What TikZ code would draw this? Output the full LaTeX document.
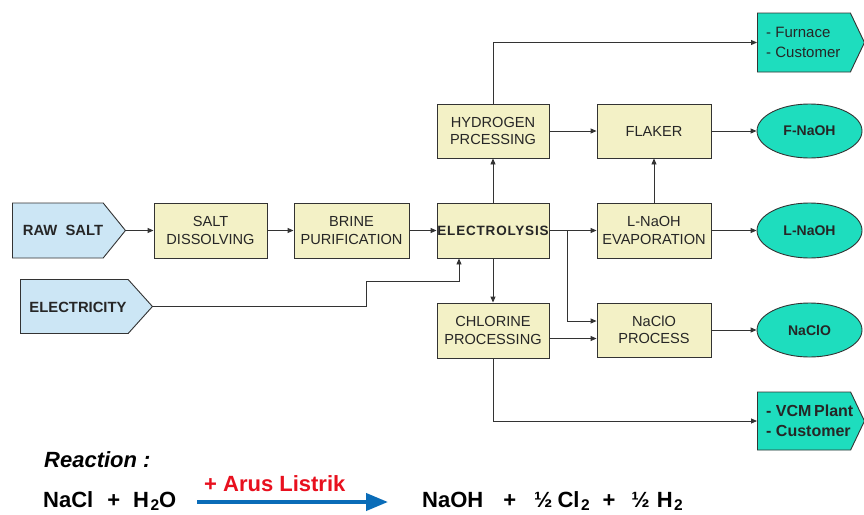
\documentclass[tikz,border=0pt]{standalone}
\usepackage{fontspec}
\setmainfont{Liberation Sans}
\usetikzlibrary{arrows.meta,shapes.symbols,shapes.geometric}
\definecolor{boxfill}{HTML}{F3F1C6}
\definecolor{infill}{HTML}{CCE6F5}
\definecolor{outfill}{HTML}{1EDDBE}
\definecolor{linegray}{HTML}{333333}
\definecolor{reactblue}{HTML}{0A6CB8}
\definecolor{reactred}{HTML}{E8101E}
\newcommand{\subtwo}{\hspace{1.5pt}\raisebox{-3.5pt}{\fontsize{15.5}{14}\selectfont 2}}
\begin{document}
\begin{tikzpicture}[x=1pt,y=-1pt,
  proc/.style={draw=linegray, line width=0.9pt, fill=boxfill, minimum width=113pt, minimum height=55pt,
    inner sep=0pt, align=center, text=black!85, font=\fontsize{14.6}{17.3}\selectfont},
  insig/.style={shape=signal, signal to=east, draw=linegray, line width=0.9pt, fill=infill,
    minimum height=55pt, inner sep=0pt, anchor=west},
  intext/.style={inner sep=0pt, text=black!85, font=\bfseries\fontsize{14.8}{17}\selectfont},
  outsig/.style={shape=signal, signal to=east, draw=linegray, line width=0.9pt, fill=outfill,
    minimum height=59pt, minimum width=107pt, inner sep=0pt, anchor=west, signal pointer angle=129},
  outtext/.style={inner sep=0pt, anchor=west, align=left, text=black!85},
  outell/.style={ellipse, draw=linegray, line width=0.9pt, fill=outfill, minimum width=105pt, minimum height=54pt,
    inner sep=0pt, text=black!85, font=\bfseries\fontsize{14}{17}\selectfont},
  conn/.style={draw=linegray, line width=0.9pt, -{Triangle[length=6pt,width=5pt]}},
  rtext/.style={anchor=base west, inner sep=0pt, font=\bfseries\fontsize{22}{24}\selectfont}
]
\useasboundingbox (0,0) rectangle (864,514);
\fill[white] (0,0) rectangle (864,514);

% inputs
\node[insig, minimum width=113pt, signal pointer angle=102] (raw) at (12,230.5) {};
\node[intext] (rawtxt) at (63,230.5) {RAW\ \ SALT};
\node[insig, minimum width=132pt, signal pointer angle=96, minimum height=54pt] (elec) at (20,306.5) {};
\node[intext] (electxt) at (78,307) {ELECTRICITY};

% process boxes
\node[proc] (saltdis) at (210.5,230.5) {SALT\\DISSOLVING};
\node[proc, minimum width=115pt] (brine) at (351.5,230.5) {BRINE\\PURIFICATION};
\node[proc, minimum width=112pt, font=\bfseries\fontsize{13.5}{17}\selectfont\addfontfeature{LetterSpace=6}] (electro) at (493,230.5) {ELECTROLYSIS};
\node[proc, minimum width=112pt, minimum height=54pt] (hydro) at (493,131) {HYDROGEN\\PRCESSING};
\node[proc, minimum width=112pt] (chlor) at (493,330.5) {CHLORINE\\PROCESSING};
\node[proc, minimum width=114pt, minimum height=54pt] (flaker) at (654,131) {FLAKER};
\node[proc, minimum width=114pt] (evap) at (654,230.5) {L-NaOH\\EVAPORATION};
\node[proc, minimum width=114pt, minimum height=54pt] (naclo) at (654,330) {NaClO\\PROCESS};

% outputs
\node[outsig] (furn) at (757,42.5) {};
\node[outtext, font=\fontsize{15}{20}\selectfont] (furntxt) at (766,42.5) {- Furnace\\- Customer};
\node[outsig, minimum height=58pt] (vcm) at (757,421) {};
\node[outtext, font=\bfseries\fontsize{16}{20}\selectfont] (vcmtxt) at (766,421) {- VCM\,Plant\\- Customer};
\node[outell] (fnaoh) at (809.5,131) {F-NaOH};
\node[outell, minimum height=55pt] (lnaoh) at (809.5,230.5) {L-NaOH};
\node[outell] (nacloout) at (809.5,330) {NaClO};

% connectors
\draw[conn] (raw.east) -- (saltdis.west);
\draw[conn] (saltdis.east) -- (brine.west);
\draw[conn] (brine.east) -- (electro.west);
\coordinate (ebend) at (366,281);
\coordinate (ein) at (459,281);
\draw[conn] (elec.east) -| (ebend) -- (ein) -- (ein |- electro.south);
\draw[conn] (electro.north) -- (hydro.south);
\draw[conn] (electro.south) -- (chlor.north);
\draw[conn] (hydro.north) |- (furn.west);
\draw[conn] (chlor.south) |- (vcm.west);
\draw[conn] (hydro.east) -- (flaker.west);
\draw[conn] (flaker.east) -- (fnaoh.west);
\draw[conn] (electro.east) -- (evap.west);
\draw[conn] (evap.north) -- (flaker.south);
\draw[conn] (evap.east) -- (lnaoh.west);
\coordinate (br) at (567,230.5);
\coordinate (nin1) at ([yshift=9pt]naclo.west);
\coordinate (nin2) at ([yshift=-8.5pt]naclo.west);
\draw[conn] (br) |- (nin1);
\draw[conn] (chlor.east |- nin2) -- (nin2);
\draw[conn] (naclo.east) -- (nacloout.west);

% reaction
\node[rtext, font=\bfseries\itshape\fontsize{22}{24}\selectfont] (reacttitle) at (44,467) {Reaction :};
\node[rtext] (lhs) at (43,507) {NaCl\hspace{14pt}+\hspace{13pt}H\subtwo O};
\coordinate (ra) at (197,502);
\coordinate (rb) at (388,502);
\draw[reactblue, line width=4pt, -{Triangle[length=22pt,width=17pt]}] (ra) -- (rb);
\node[rtext, text=reactred] (cond) at (204,491) {+ Arus Listrik};
\node[rtext] (rhs) at (422,507) {NaOH\hspace{20pt}+\hspace{18pt}½\hspace{5pt}Cl\subtwo\hspace{13pt}+\hspace{16pt}½\hspace{7pt}H\subtwo};
\end{tikzpicture}
\end{document}
